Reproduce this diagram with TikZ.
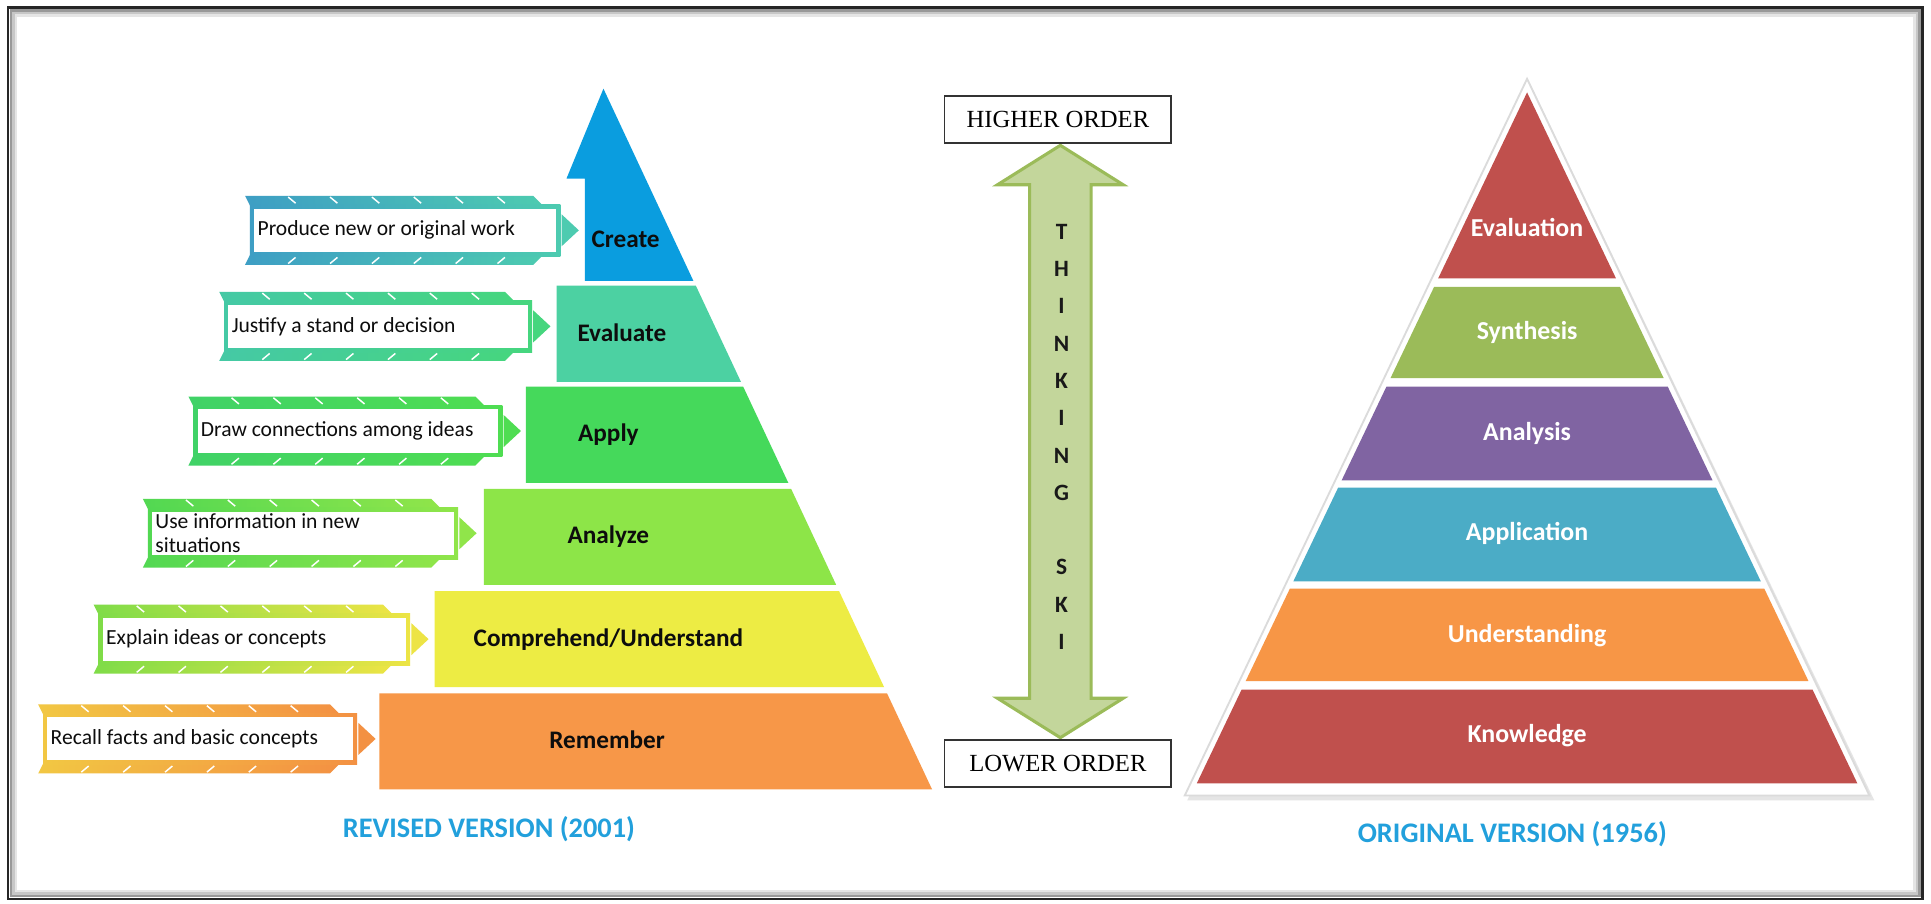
\documentclass[tikz,border=0pt]{standalone}
\usepackage{fontspec}
\setmainfont{Carlito}
\newfontfamily\serifbox{Liberation Serif}
\usetikzlibrary{calc}
\definecolor{lcreate}{HTML}{0A9DDF}
\definecolor{levaluate}{HTML}{4CD1A2}
\definecolor{lapply}{HTML}{45D95B}
\definecolor{lanalyze}{HTML}{8DE548}
\definecolor{lcomp}{HTML}{EDEC44}
\definecolor{lremember}{HTML}{F79748}
\definecolor{rred}{HTML}{C0504D}
\definecolor{rgreen}{HTML}{9BBB59}
\definecolor{rpurple}{HTML}{8064A2}
\definecolor{rteal}{HTML}{4BACC6}
\definecolor{rorange}{HTML}{F79646}
\definecolor{arrowfill}{HTML}{C3D69B}
\definecolor{arrowdraw}{HTML}{9BBB59}
\definecolor{captionblue}{HTML}{22A0DC}
\definecolor{bA1}{HTML}{3E9EC4}\definecolor{bB1}{HTML}{4DCBB0}
\definecolor{bA2}{HTML}{45C9A5}\definecolor{bB2}{HTML}{46D67E}
\definecolor{bA3}{HTML}{40D267}\definecolor{bB3}{HTML}{4FDD52}
\definecolor{bA4}{HTML}{52D852}\definecolor{bB4}{HTML}{90E54A}
\definecolor{bA5}{HTML}{7FDC48}\definecolor{bB5}{HTML}{EDE445}
\definecolor{bA6}{HTML}{F2C743}\definecolor{bB6}{HTML}{F39143}
\tikzset{
  layertext/.style={font=\fontsize{20.5}{24}\selectfont\bfseries, text=black!95, inner sep=0pt},
  righttext/.style={font=\fontsize{21}{24}\selectfont\bfseries, text=white, inner sep=0pt},
  bannertext/.style={font=\fontsize{17.5}{20}\selectfont, text=black!95, inner sep=0pt, align=left},
  orderbox/.style={draw=black!80, line width=1.2pt, fill=white, minimum width=184pt, minimum height=38pt, inner sep=0pt, font=\serifbox\fontsize{20}{24}\selectfont},
  thinkletter/.style={font=\fontsize{19}{22}\selectfont\bfseries, text=black!90, inner sep=0pt},
  captiontext/.style={font=\fontsize{23}{27}\selectfont\bfseries, text=captionblue, inner sep=0pt}
}
\newcommand\banner[7]{%
  \shade[left color=#4, right color=#5] ({#1-4},{#3-28}) -- ({#2-22},{#3-28}) -- ({#2-14},{#3-20}) -- ({#1},{#3-20}) -- cycle;
  \shade[left color=#4, right color=#5] ({#1-4},{#3+28}) -- ({#2-22},{#3+28}) -- ({#2-14},{#3+20}) -- ({#1},{#3+20}) -- cycle;
  \shade[left color=#4, right color=#5] (#1,{#3-21}) rectangle (#2,{#3+21});
  \fill[white] ({#1+3.5},{#3-17.5}) rectangle ({#2-3.5},{#3+17.5});
  \fill[#5] ({#2+1},{#3-13}) -- ({#2+15},#3) -- ({#2+1},{#3+13}) -- cycle;
  \foreach \k in {1,...,6} {
    \draw[white, line width=1.2pt] ({#1+34*\k-3},{#3-27}) -- ({#1+34*\k+3},{#3-22});
    \draw[white, line width=1.2pt] ({#1+34*\k-3},{#3+27}) -- ({#1+34*\k+3},{#3+22});
  }
  \node[bannertext, anchor=west] (#6) at ({#1+6},#3) {#7};
}
\begin{document}
\begin{tikzpicture}[x=1pt, y=-1pt]
\useasboundingbox (0,0) rectangle (1568,734);
\fill[white] (0,0) rectangle (1568,734);
% frame with inner shadow
\draw[line width=2pt, black!10] (13,12.5) rectangle (1554.5,723.5);
\draw[line width=2pt, black!22] (11,10.5) rectangle (1556.5,725.5);
\draw[line width=2pt, black!40] (9,8.5) rectangle (1558.5,727.5);
\draw[line width=2.2pt, black!85] (6.5,6) rectangle (1561,730);

% ---------- left pyramid (revised) ----------
\fill[lcreate] (490,72) -- (563,228) -- (475,228) -- (475,145) -- (460,145) -- cycle;
\fill[levaluate] (452,232) -- ({490+0.469*160},232) -- ({490+0.469*238},310) -- (452,310) -- cycle;
\fill[lapply] (427,314) -- ({490+0.469*242},314) -- ({490+0.469*320},392) -- (427,392) -- cycle;
\fill[lanalyze] (393,397) -- ({490+0.469*325},397) -- ({490+0.469*403},475) -- (393,475) -- cycle;
\fill[lcomp] (353,480) -- ({490+0.469*408},480) -- ({490+0.469*486},558) -- (353,558) -- cycle;
\fill[lremember] (308,563) -- ({490+0.469*491},563) -- ({490+0.469*569},641) -- (308,641) -- cycle;

\node[layertext] (create) at (508,194) {Create};
\node[layertext] (evaluate) at (505,270) {Evaluate};
\node[layertext] (apply) at (494,353) {Apply};
\node[layertext] (analyze) at (494,436) {Analyze};
\node[layertext] (comprehend) at (494,519) {Comprehend/Understand};
\node[layertext] (remember) at (493,601) {Remember};

\banner{203}{455}{187}{bA1}{bB1}{b1}{Produce new or original work}
\banner{182}{432}{265}{bA2}{bB2}{b2}{Justify a stand or decision}
\banner{157}{408}{350}{bA3}{bB3}{b3}{Draw connections among ideas}
\banner{120}{372}{433}{bA4}{bB4}{b4}{Use information in new\\situations}
\banner{80}{333}{519}{bA5}{bB5}{b5}{Explain ideas or concepts}
\banner{35}{290}{600}{bA6}{bB6}{b6}{Recall facts and basic concepts}

\node[captiontext] (revised) at (397,673) {REVISED VERSION (2001)};

% ---------- middle arrow ----------
\filldraw[fill=arrowfill, draw=arrowdraw, line width=2.5pt, line join=miter]
  (861,118) -- (912,150) -- (886,150) -- (886,567) -- (912,567) -- (861,599)
  -- (810,567) -- (836,567) -- (836,150) -- (810,150) -- cycle;
\node[orderbox] (higher) at (859,97) {HIGHER ORDER};
\node[orderbox] (lower) at (859,620) {LOWER ORDER};
\foreach \ch/\k in {T/0,H/1,I/2,N/3,K/4,I/5,N/6,G/7,S/9,K/10,I/11} {
  \node[thinkletter] (think\k) at (862,{188+30.3*\k}) {\ch};
}

% ---------- right pyramid (original) ----------
\fill[black!10] (1242,67) -- (1522,650) -- (964,650) -- cycle;
\filldraw[fill=white, draw=black!14, line width=1.5pt] (1240,64) -- (1518,646) -- (962,646) -- cycle;
\fill[rred] (1240,75) -- ({1240+0.478*151},226) -- ({1240-0.478*151},226) -- cycle;
\fill[rgreen] ({1240-0.478*158},233) -- ({1240+0.478*158},233) -- ({1240+0.478*232},307) -- ({1240-0.478*232},307) -- cycle;
\fill[rpurple] ({1240-0.478*239},314) -- ({1240+0.478*239},314) -- ({1240+0.478*315},390) -- ({1240-0.478*315},390) -- cycle;
\fill[rteal] ({1240-0.478*321},396) -- ({1240+0.478*321},396) -- ({1240+0.478*397},472) -- ({1240-0.478*397},472) -- cycle;
\fill[rorange] ({1240-0.478*403},478) -- ({1240+0.478*403},478) -- ({1240+0.478*478},553) -- ({1240-0.478*478},553) -- cycle;
\fill[rred] ({1240-0.478*485},560) -- ({1240+0.478*485},560) -- ({1240+0.478*561},636) -- ({1240-0.478*561},636) -- cycle;

\node[righttext] (evaluation) at (1240,185) {Evaluation};
\node[righttext] (synthesis) at (1240,270) {Synthesis};
\node[righttext] (analysis) at (1240,352) {Analysis};
\node[righttext] (application) at (1240,433) {Application};
\node[righttext] (understanding) at (1240,516) {Understanding};
\node[righttext] (knowledge) at (1240,597) {Knowledge};

\node[captiontext] (original) at (1228,677) {ORIGINAL VERSION (1956)};
\end{tikzpicture}
\end{document}
